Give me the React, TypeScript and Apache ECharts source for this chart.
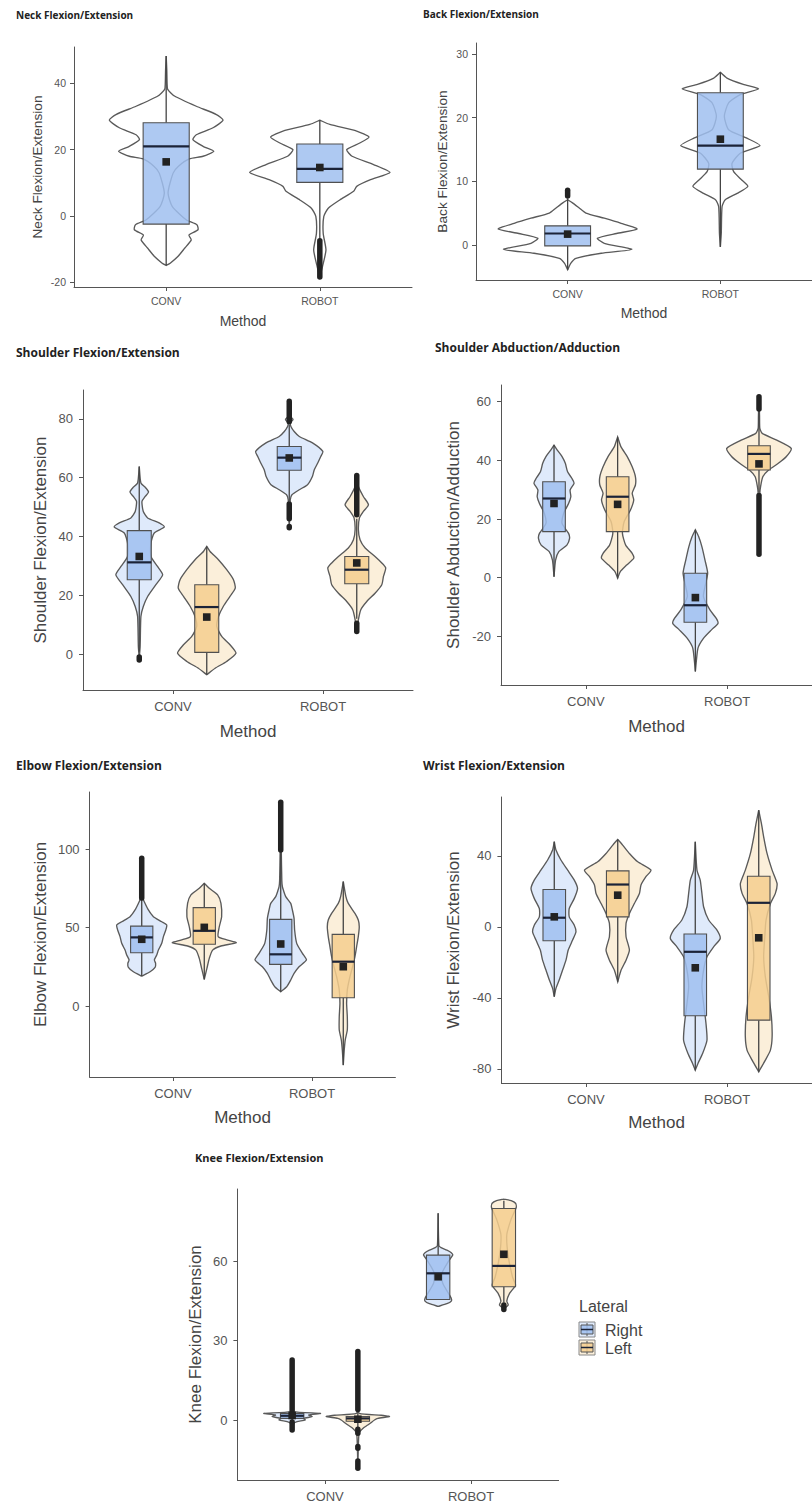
import React, { useEffect, useRef } from "react";
import * as echarts from "echarts";

// ---------------- DATA ----------------
const methods = ["CONV", "ROBOT"];
const laterals = ["Right", "Left"];

// box stats: [lower whisker, Q1, median, Q3, upper whisker]
// violin profiles: [value, half width in category units]

// Neck (single group: CONV, ROBOT)
const neckTicks = [-20, 0, 20, 40];
const neckBoxes = [[-15, -2.5, 21, 28.1, 48.3], [-7, 10.1, 14.2, 21.7, 28.9]];
const neckMeans = [16.3, 14.6];
const neckOutliers = [[], [[-18.5, -7.5]]];
const neckViolins = [
  [[48.3, 0], [44, 0.004], [40, 0.006], [38.2, 0.01], [36.2, 0.054], [33.1, 0.196], [30.6, 0.327], [28.9, 0.37], [26.6, 0.305], [24.5, 0.196], [23, 0.174], [21, 0.24], [19.5, 0.31], [18, 0.24], [17.2, 0.15], [15, 0.08], [12.9, 0.045], [6.9, 0.012], [2.8, 0.04], [-1.2, 0.13], [-2.7, 0.2], [-4.2, 0.207], [-5.8, 0.148], [-7.3, 0.163], [-9.8, 0.12], [-12.3, 0.076], [-14.3, 0.026], [-15, 0]],
  [[28.9, 0], [27.6, 0.065], [25.6, 0.24], [23.8, 0.32], [22, 0.26], [20, 0.175], [18, 0.21], [15.5, 0.35], [13.1, 0.457], [10.9, 0.33], [8.9, 0.24], [7.4, 0.22], [4.8, 0.13], [2.3, 0.055], [-0.2, 0.026], [-5.3, 0.022], [-10.3, 0.04], [-15.4, 0.017], [-18.4, 0]],
];

// Back
const backTicks = [0, 10, 20, 30];
const backBoxes = [[-3.9, -0.15, 1.8, 3.0, 7.3], [-0.3, 11.9, 15.6, 23.9, 27.1]];
const backMeans = [1.7, 16.6];
const backOutliers = [[[7.7, 8.6]], []];
const backViolins = [
  [[7.1, 0], [6.6, 0.032], [5.8, 0.076], [5, 0.12], [4.2, 0.24], [3.4, 0.35], [2.5, 0.455], [1.8, 0.32], [1.05, 0.195], [0.26, 0.24], [-0.7, 0.42], [-1.3, 0.22], [-2.1, 0.054], [-2.9, 0.02], [-3.9, 0]],
  [[27.1, 0], [26.2, 0.043], [25.2, 0.15], [24.5, 0.25], [23.6, 0.13], [22.3, 0.054], [20.2, 0.026], [18.1, 0.054], [16.8, 0.17], [15.6, 0.26], [14.4, 0.13], [12.8, 0.076], [11.5, 0.087], [10.2, 0.14], [9.2, 0.18], [8.1, 0.11], [7.1, 0.032], [6, 0.011], [1.8, 0.006], [-0.3, 0]],
];

// Shoulder Flexion/Extension (CONV-Right, CONV-Left, ROBOT-Right, ROBOT-Left)
const sfTicks = [0, 20, 40, 60, 80];
const sfBoxes = [[0.9, 25.3, 31.2, 42, 63.8], [-7, 0.6, 16, 23.6, 36.6], [52, 62.5, 66.8, 70.6, 78], [12, 23.9, 28.7, 33.2, 46]];
const sfMeans = [33.2, 12.6, 66.7, 31];
const sfOutliers = [[[-2, -1]], [], [[79, 86], [46, 51], [43, 43.4]], [[47.4, 60.7], [7.7, 10.5]]];
const sfViolins = [
  [[63.8, 0], [58.2, 0.011], [56.5, 0.044], [55.1, 0.062], [53.6, 0.04], [51.9, 0.018], [48.5, 0.027], [46.3, 0.056], [44.6, 0.133], [43.2, 0.167], [41.2, 0.1], [37.8, 0.078], [33.2, 0.078], [29.8, 0.122], [27, 0.156], [23.6, 0.111], [19.6, 0.056], [16.2, 0.027], [12.8, 0.011], [2.6, 0.006], [-1.4, 0]],
  [[36.6, 0], [34.9, 0.022], [32.1, 0.078], [28.7, 0.133], [25.3, 0.178], [22.4, 0.19], [19.6, 0.155], [16.2, 0.11], [12.8, 0.078], [9.4, 0.067], [6, 0.1], [3.2, 0.155], [0.3, 0.195], [-2.5, 0.133], [-4.8, 0.056], [-7, 0]],
  [[86, 0], [81, 0.005], [79.8, 0.025], [78.6, 0.008], [77.4, 0.011], [75.7, 0.033], [74, 0.067], [71.8, 0.155], [68.9, 0.224], [67.2, 0.21], [65, 0.19], [62.7, 0.167], [60.5, 0.155], [57.6, 0.122], [55.9, 0.067], [54.2, 0.018], [52.5, 0.007], [48, 0.004], [43, 0]],
  [[60.7, 0], [57, 0.011], [53.6, 0.044], [50.8, 0.078], [48.5, 0.044], [46.3, 0.018], [42.3, 0.011], [38.9, 0.022], [36.1, 0.056], [33.2, 0.122], [31, 0.167], [29.3, 0.193], [26.4, 0.178], [23.6, 0.167], [20.7, 0.122], [17.9, 0.067], [15.1, 0.027], [11.7, 0.011], [7.7, 0]],
];

// Shoulder Abduction/Adduction
const saTicks = [-20, 0, 20, 40, 60];
const saBoxes = [[0.3, 15.7, 27, 32.7, 45.2], [-0.2, 15.7, 27.6, 34.4, 48], [-32, -15.2, -9.4, 1.5, 16.3], [29, 36.7, 42.2, 45, 57]];
const saMeans = [25.3, 25, -6.8, 38.8];
const saOutliers = [[], [], [], [[57.5, 61.7], [8, 28]]];
const saViolins = [
  [[45.2, 0], [43.5, 0.023], [41.3, 0.057], [39, 0.08], [36.1, 0.096], [33.9, 0.126], [32.2, 0.142], [29.9, 0.114], [27.6, 0.119], [25.3, 0.103], [21.9, 0.068], [18.5, 0.057], [15.1, 0.103], [13.4, 0.11], [11.1, 0.091], [8.9, 0.034], [6, 0.011], [0.3, 0]],
  [[48, 0], [44.7, 0.023], [41.3, 0.068], [37.8, 0.103], [34.4, 0.126], [31.6, 0.126], [28.8, 0.103], [26.5, 0.114], [23.1, 0.091], [19.1, 0.046], [15.1, 0.034], [11.1, 0.057], [8.3, 0.103], [6.6, 0.114], [4.3, 0.064], [2, 0.018], [-0.2, 0]],
  [[16.3, 0], [14, 0.023], [10.6, 0.046], [6, 0.068], [1.5, 0.087], [-3.1, 0.068], [-6.5, 0.057], [-11, 0.103], [-13.9, 0.148], [-15.6, 0.16], [-17.8, 0.114], [-20.7, 0.057], [-24.1, 0.018], [-32, 0]],
  [[61.7, 0], [55, 0.004], [50.9, 0.006], [49.2, 0.023], [46.9, 0.126], [44.1, 0.228], [41.3, 0.194], [39, 0.137], [36.7, 0.068], [34.4, 0.027], [31, 0.011], [28.8, 0.006], [8, 0]],
];

// Elbow
const elTicks = [0, 50, 100];
const elBoxes = [[19.1, 34, 43.8, 51, 68], [17, 39.4, 48, 62.8, 78.3], [9.1, 26.6, 33, 55.3, 98], [-37.7, 5.3, 28.3, 45.7, 79.4]];
const elMeans = [42.6, 50.2, 39.6, 25.1];
const elOutliers = [[[69, 94.3]], [], [[99.6, 130]], []];
const elViolins = [
  [[94.3, 0], [80, 0.004], [68.7, 0.008], [65.5, 0.024], [61.3, 0.048], [57, 0.084], [53.8, 0.144], [51.7, 0.18], [48.5, 0.173], [44.3, 0.156], [40, 0.144], [35.7, 0.12], [32.6, 0.108], [29.4, 0.091], [27.2, 0.1], [24.7, 0.096], [21.9, 0.06], [19.1, 0]],
  [[78.3, 0], [75.1, 0.036], [70.9, 0.096], [65.5, 0.12], [57, 0.125], [50.6, 0.108], [44.3, 0.1], [42.1, 0.168], [40.4, 0.23], [38.3, 0.12], [35.7, 0.06], [30.4, 0.036], [24, 0.019], [17, 0]],
  [[130, 0], [100, 0.004], [80, 0.008], [76.2, 0.012], [74, 0.019], [69.8, 0.036], [65.5, 0.072], [61.3, 0.084], [55.9, 0.096], [48.5, 0.1], [40, 0.115], [33.6, 0.156], [29.4, 0.185], [25.1, 0.132], [20.9, 0.096], [16.6, 0.072], [12.3, 0.043], [9.1, 0]],
  [[79.4, 0], [69.8, 0.019], [65.5, 0.036], [59.1, 0.084], [54.9, 0.108], [50.6, 0.115], [44.3, 0.108], [37.9, 0.096], [31.5, 0.084], [25.1, 0.067], [18.7, 0.048], [10.2, 0.029], [1.7, 0.024], [-6.8, 0.029], [-15.3, 0.029], [-21.7, 0.014], [-28.1, 0.007], [-37.7, 0]],
];

// Wrist
const wrTicks = [-80, -40, 0, 40];
const wrBoxes = [[-39.4, -7.9, 5.1, 21, 47.9], [-31, 5.6, 23.8, 31.5, 49.2], [-80.8, -50.1, -14.1, -4.1, 47.9], [-81.7, -52.6, 13.5, 28.5, 65.7]];
const wrMeans = [5.6, 17.8, -23.1, -6.2];
const wrOutliers = [[], [], [], []];
const wrViolins = [
  [[47.9, 0], [43.2, 0.012], [37.6, 0.047], [31.9, 0.095], [26.3, 0.142], [21.6, 0.165], [16, 0.142], [10.3, 0.106], [5.6, 0.106], [0.9, 0.142], [-2.8, 0.154], [-7.5, 0.13], [-13.1, 0.099], [-18.8, 0.083], [-24.4, 0.059], [-30, 0.035], [-34.7, 0.012], [-39.4, 0]],
  [[49.2, 0], [46, 0.035], [41.3, 0.083], [36.6, 0.142], [31.9, 0.236], [28.2, 0.2], [23.5, 0.165], [18.8, 0.154], [13.1, 0.118], [7.5, 0.083], [1.9, 0.059], [-5.6, 0.059], [-13.1, 0.083], [-18.8, 0.059], [-24.4, 0.024], [-31, 0]],
  [[47.9, 0], [31.9, 0.012], [26.3, 0.035], [18.8, 0.047], [11.3, 0.059], [3.8, 0.095], [-1.9, 0.154], [-6.6, 0.177], [-11.3, 0.13], [-16.9, 0.083], [-24.4, 0.059], [-33.8, 0.047], [-43.2, 0.059], [-54.5, 0.076], [-63.9, 0.083], [-71.4, 0.052], [-77, 0.019], [-80.8, 0]],
  [[65.7, 0], [58.2, 0.019], [50.7, 0.035], [41.3, 0.059], [31.9, 0.095], [24.4, 0.13], [18.8, 0.118], [13.1, 0.083], [3.8, 0.052], [-5.6, 0.043], [-16.9, 0.035], [-28.2, 0.047], [-39.4, 0.071], [-50.7, 0.09], [-62, 0.095], [-69.5, 0.083], [-75.1, 0.047], [-81.7, 0]],
];

// Knee
const knTicks = [0, 30, 60];
const knBoxes = [[-0.5, 0.6, 1.6, 2.5, 3.5], [-3, -0.5, 0.6, 1.3, 3.5], [45.6, 45.6, 55.5, 62.4, 78.2], [44.5, 50.4, 58.3, 80, 83]];
const knMeans = [1.7, 0.3, 54.2, 62.7];
const knOutliers = [[[3.6, 22.7], [-3.8, -0.8]], [[4, 25.9], [-5, -3.5], [-10.7, -10], [-18.3, -15.5]], [], [[41.8, 43.5]]];
const knViolins = [
  [[22.7, 0], [5, 0.004], [3.2, 0.01], [2.5, 0.194], [1.9, 0.114], [1.3, 0.137], [0.6, 0.08], [0, 0.09], [-0.6, 0.034], [-1.3, 0.011], [-3.8, 0]],
  [[25.9, 0], [5, 0.004], [2.5, 0.01], [1.8, 0.16], [1.3, 0.217], [0.6, 0.137], [0, 0.114], [-1, 0.09], [-1.9, 0.068], [-3.2, 0.034], [-5, 0.008], [-18.3, 0]],
  [[78.2, 0], [66, 0.005], [65.2, 0.02], [64.3, 0.06], [63.3, 0.09], [62.4, 0.1], [60, 0.07], [56, 0.03], [52, 0.03], [48, 0.07], [46, 0.09], [45, 0.09], [44, 0.06], [43, 0]],
  [[83.6, 0], [83, 0.05], [82, 0.08], [80.5, 0.085], [76, 0.05], [70, 0.02], [62, 0.03], [54, 0.06], [51, 0.08], [48, 0.04], [45, 0.02], [43.5, 0.03], [42, 0]],
];

// ---------------- STYLE / LAYOUT ----------------
const AX_FONT = '"Liberation Sans", Arial, sans-serif';
const TITLE_FONT = '"Open Sans", "Noto Sans", sans-serif';
const BLUE_BOX = "rgba(160,192,240,0.85)";
const BLUE_VIOLIN = "rgba(220,232,251,0.9)";
const ORANGE_BOX = "rgba(244,206,142,0.85)";
const ORANGE_VIOLIN = "rgba(251,237,214,0.9)";

type Panel = {
  title: string; tx: number; ty: number; tSize: number;
  yName: string; ticks: number[]; boxes: number[][]; means: number[];
  outliers: number[][][]; violins: number[][][]; dodge: boolean;
  grid: { left: number; top: number; width: number; height: number };
  yMin: number; yMax: number; small: boolean;
  yGap: number; xGap: number; showX: boolean;
};

const panels: Panel[] = [
  { title: "Neck Flexion/Extension", tx: 16, ty: 15, tSize: 10, yName: "Neck Flexion/Extension", ticks: neckTicks, boxes: neckBoxes, means: neckMeans, outliers: neckOutliers, violins: neckViolins, dodge: false, grid: { left: 74, top: 47, width: 338, height: 240 }, yMin: -21.5, yMax: 51, small: true, yGap: 30, xGap: 27, showX: true },
  { title: "Back Flexion/Extension", tx: 423, ty: 14, tSize: 10, yName: "Back Flexion/Extension", ticks: backTicks, boxes: backBoxes, means: backMeans, outliers: backOutliers, violins: backViolins, dodge: false, grid: { left: 476, top: 43, width: 339, height: 237 }, yMin: -5.5, yMax: 31.7, small: true, yGap: 27, xGap: 26, showX: true },
  { title: "Shoulder Flexion/Extension", tx: 16, ty: 352, tSize: 12, yName: "Shoulder Flexion/Extension", ticks: sfTicks, boxes: sfBoxes, means: sfMeans, outliers: sfOutliers, violins: sfViolins, dodge: true, grid: { left: 83, top: 390, width: 330, height: 300 }, yMin: -12.2, yMax: 89.8, small: false, yGap: 34, xGap: 33, showX: true },
  { title: "Shoulder Abduction/Adduction", tx: 435, ty: 347, tSize: 12, yName: "Shoulder Abduction/Adduction", ticks: saTicks, boxes: saBoxes, means: saMeans, outliers: saOutliers, violins: saViolins, dodge: true, grid: { left: 501, top: 385, width: 321, height: 300 }, yMin: -36.6, yMax: 65.7, small: false, yGap: 39, xGap: 33, showX: true },
  { title: "Elbow Flexion/Extension", tx: 16, ty: 765, tSize: 12, yName: "Elbow Flexion/Extension", ticks: elTicks, boxes: elBoxes, means: elMeans, outliers: elOutliers, violins: elViolins, dodge: true, grid: { left: 89.6, top: 792, width: 305.8, height: 285 }, yMin: -45.3, yMax: 136.6, small: false, yGap: 41, xGap: 32, showX: true },
  { title: "Wrist Flexion/Extension", tx: 423, ty: 765, tSize: 12, yName: "Wrist Flexion/Extension", ticks: wrTicks, boxes: wrBoxes, means: wrMeans, outliers: wrOutliers, violins: wrViolins, dodge: true, grid: { left: 501.4, top: 797, width: 310.2, height: 286 }, yMin: -88, yMax: 73.1, small: false, yGap: 39, xGap: 31, showX: true },
  { title: "Knee Flexion/Extension", tx: 195, ty: 1157, tSize: 11, yName: "Knee Flexion/Extension", ticks: knTicks, boxes: knBoxes, means: knMeans, outliers: knOutliers, violins: knViolins, dodge: true, grid: { left: 237.4, top: 1189, width: 321.2, height: 291 }, yMin: -22.7, yMax: 87.4, small: false, yGap: 33, xGap: 33, showX: false },
];

function centerOf(p: Panel, i: number) {
  if (!p.dodge) return i + 1;
  const m = Math.floor(i / 2);
  return m + 1 + (i % 2 === 0 ? -0.225 : 0.225);
}

function makeRender(p: Panel) {
  return (params: any, api: any) => {
    const i = params.dataIndex;
    const xc = centerOf(p, i);
    const isLeft = p.dodge && i % 2 === 1;
    const box = p.boxes[i];
    const prof = p.violins[i];
    const bw = p.dodge ? 0.08 : 0.15;
    const right = prof.map(([v, w]) => api.coord([xc + w, v]));
    const left = prof.slice().reverse().map(([v, w]) => api.coord([xc - w, v]));
    const violinFill = !p.dodge ? "rgba(255,255,255,0)" : isLeft ? ORANGE_VIOLIN : BLUE_VIOLIN;
    const boxFill = isLeft ? ORANGE_BOX : BLUE_BOX;
    const children: any[] = [];
    children.push({
      type: "polygon",
      shape: { points: right.concat(left), smooth: 0.2 },
      style: { fill: violinFill, stroke: "#5a5a5a", lineWidth: 1.35 },
    });
    const lw = api.coord([xc, box[0]]);
    const q1 = api.coord([xc, box[1]]);
    const q3 = api.coord([xc, box[3]]);
    const hw = api.coord([xc, box[4]]);
    children.push({ type: "line", shape: { x1: lw[0], y1: lw[1], x2: q1[0], y2: q1[1] }, style: { stroke: "#444", lineWidth: 1.3 } });
    children.push({ type: "line", shape: { x1: q3[0], y1: q3[1], x2: hw[0], y2: hw[1] }, style: { stroke: "#444", lineWidth: 1.3 } });
    const tl = api.coord([xc - bw, box[3]]);
    const br = api.coord([xc + bw, box[1]]);
    children.push({
      type: "rect",
      shape: { x: tl[0], y: tl[1], width: br[0] - tl[0], height: br[1] - tl[1] },
      style: { fill: boxFill, stroke: "#505050", lineWidth: 1.1 },
    });
    const m1 = api.coord([xc - bw, box[2]]);
    const m2 = api.coord([xc + bw, box[2]]);
    children.push({ type: "line", shape: { x1: m1[0], y1: m1[1], x2: m2[0], y2: m2[1] }, style: { stroke: "#1b2338", lineWidth: 2.2 } });
    for (const [a, b] of p.outliers[i]) {
      const pa = api.coord([xc, a]);
      const pb = api.coord([xc, b]);
      children.push({ type: "line", shape: { x1: pa[0], y1: pa[1], x2: pb[0], y2: pb[1] }, style: { stroke: "#222", lineWidth: 5.5, lineCap: "round" } });
    }
    const mp = api.coord([xc, p.means[i]]);
    children.push({ type: "rect", shape: { x: mp[0] - 3.8, y: mp[1] - 3.8, width: 7.6, height: 7.6 }, style: { fill: "#222" } });
    return { type: "group", children };
  };
}

function buildOption() {
  const grid = panels.map((p) => ({ ...p.grid, containLabel: false }));
  const xAxis = panels.map((p, i) => {
    const fs = p.small ? 10.5 : 13;
    return {
      gridIndex: i, type: "value", min: 0.4, max: 2.6,
      axisLine: { show: true, onZero: false, lineStyle: { color: "#555", width: 1 } },
      axisTick: { show: true, customValues: [1, 2], length: 4, lineStyle: { color: "#555" } },
      axisLabel: { show: true, customValues: [1, 2], formatter: (v: number) => methods[Math.round(v) - 1] || "", color: "#555", fontSize: fs, fontFamily: AX_FONT, margin: p.small ? 8 : 10 },
      splitLine: { show: false },
      name: p.showX ? "Method" : "", nameLocation: "middle", nameGap: p.xGap,
      nameTextStyle: { color: "#444", fontSize: p.small ? 14 : 17, fontFamily: AX_FONT },
    };
  });
  const yAxis = panels.map((p, i) => {
    const fs = p.small ? 10.5 : 13;
    return {
      gridIndex: i, type: "value", min: p.yMin, max: p.yMax,
      axisLine: { show: true, onZero: false, lineStyle: { color: "#555", width: 1 } },
      axisTick: { show: true, customValues: p.ticks, length: 4, lineStyle: { color: "#555" } },
      axisLabel: { show: true, customValues: p.ticks, color: "#555", fontSize: fs, fontFamily: AX_FONT, margin: p.small ? 8 : 10 },
      splitLine: { show: false },
      name: p.yName, nameLocation: "middle", nameGap: p.yGap, nameRotate: 90,
      nameTextStyle: { color: "#444", fontSize: p.small ? 13.7 : 17, fontFamily: AX_FONT },
    };
  });
  const series = panels.map((p, i) => ({
    type: "custom", xAxisIndex: i, yAxisIndex: i, clip: false,
    data: p.boxes.map((b, k) => [centerOf(p, k), b[2]]),
    renderItem: makeRender(p),
    silent: true,
  }));
  const graphic: any[] = panels.map((p) => ({
    type: "text", x: p.tx, y: p.ty,
    style: { text: p.title, fill: "#222", fontSize: p.tSize, fontWeight: "bold", fontFamily: TITLE_FONT, verticalAlign: "middle", align: "left" },
  }));
  // legend for lateral
  const keyColors = [[BLUE_VIOLIN, BLUE_BOX], [ORANGE_VIOLIN, ORANGE_BOX]];
  graphic.push({ type: "text", x: 579, y: 1306, style: { text: "Lateral", fill: "#444", fontSize: 16, fontFamily: AX_FONT, verticalAlign: "middle", align: "left" } });
  laterals.forEach((name, k) => {
    const ky = 1322 + k * 18;
    graphic.push({ type: "rect", shape: { x: 579, y: ky, width: 16, height: 15 }, style: { fill: keyColors[k][0], stroke: "#888", lineWidth: 1 } });
    graphic.push({ type: "line", shape: { x1: 587, y1: ky + 1, x2: 587, y2: ky + 14 }, style: { stroke: "#555", lineWidth: 1 } });
    graphic.push({ type: "rect", shape: { x: 581, y: ky + 3, width: 12, height: 9 }, style: { fill: keyColors[k][1], stroke: "#555", lineWidth: 1 } });
    graphic.push({ type: "line", shape: { x1: 581, y1: ky + 7.5, x2: 593, y2: ky + 7.5 }, style: { stroke: "#1b2338", lineWidth: 1.5 } });
    graphic.push({ type: "text", x: 605, y: ky + 8, style: { text: name, fill: "#444", fontSize: 16, fontFamily: AX_FONT, verticalAlign: "middle", align: "left" } });
  });
  return { animation: false, backgroundColor: "#fff", grid, xAxis, yAxis, series, graphic };
}

export default function App() {
  const ref = useRef<HTMLDivElement>(null);
  useEffect(() => {
    if (!ref.current) return;
    const chart = echarts.init(ref.current, null, { renderer: "svg" });
    chart.setOption(buildOption() as any);
    return () => chart.dispose();
  }, []);
  return <div ref={ref} style={{ position: "absolute", left: 0, top: 0, width: 812, height: 1503, background: "#fff" }} />;
}
